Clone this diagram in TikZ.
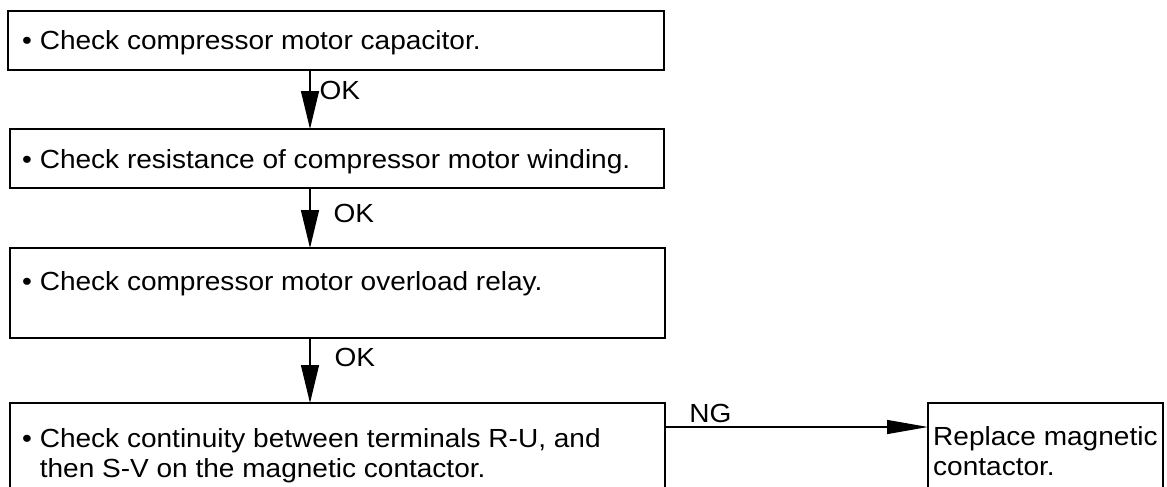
\documentclass[tikz,border=0pt]{standalone}
\usepackage{fontspec}
\setmainfont[FakeStretch=1.07]{Liberation Sans}
\usetikzlibrary{arrows.meta}
\tikzset{
  frame/.style={draw, line width=2.8pt, anchor=north west, inner sep=0pt, outer sep=0pt},
  txt/.style={anchor=base west, inner sep=0pt, font=\fontsize{26.2}{30}\selectfont},
  lbl/.style={anchor=west, inner sep=0pt, font=\fontsize{26.2}{30}\selectfont},
  vflow/.style={line width=1.3pt, -{Triangle[length=38pt,width=18pt]}},
  hflow/.style={line width=1.3pt, -{Triangle[length=41pt,width=14pt]}},
}
\begin{document}
\begin{tikzpicture}[x=1pt,y=-1pt]
\useasboundingbox (0,0) rectangle (1167,487);
\clip (0,0) rectangle (1167,487);
\node[frame, minimum width=656pt, minimum height=59pt] (b1) at (8,11) {};
\node[frame, minimum width=654pt, minimum height=59pt] (b2) at (10,129) {};
\node[frame, minimum width=655pt, minimum height=90pt] (b3) at (10,248) {};
\node[frame, minimum width=655pt, minimum height=100pt] (b4) at (10,403) {};
\node[frame, minimum width=235pt, minimum height=100pt] (b5) at (928,403) {};
\node[txt] (t1) at (22,50) {\textbullet\ Check compressor motor capacitor.};
\node[txt] (t2) at (22,168) {\textbullet\ Check resistance of compressor motor winding.};
\node[txt] (t3) at (22,290) {\textbullet\ Check compressor motor overload relay.};
\node[txt] (t4a) at (22,447) {\textbullet\ Check continuity between terminals R-U, and};
\node[txt] (t4b) at (t4a.base west) [yshift=-30pt] {\phantom{\textbullet\ }then S-V on the magnetic contactor.};
\node[txt] (t5a) at (933,445) {Replace magnetic};
\node[txt] (t5b) at (t5a.base west) [yshift=-30pt] {contactor.};
\coordinate (a1) at (310,70);
\coordinate (a2) at (310,188);
\coordinate (a3) at (310,338);
\draw[vflow] (a1) -- (a1 |- b2.north) node[lbl, pos=0.35, xshift=9pt] (ok1) {OK};
\draw[vflow] (a2) -- (a2 |- b3.north) node[lbl, pos=0.42, xshift=23pt] (ok2) {OK};
\draw[vflow] (a3) -- (a3 |- b4.north) node[lbl, pos=0.3, xshift=24pt] (ok3) {OK};
\coordinate (n1) at (665,427);
\draw[hflow] (n1) -- (n1 -| b5.west) node[lbl, pos=0.09, yshift=14pt] (ng) {NG};
\end{tikzpicture}
\end{document}
